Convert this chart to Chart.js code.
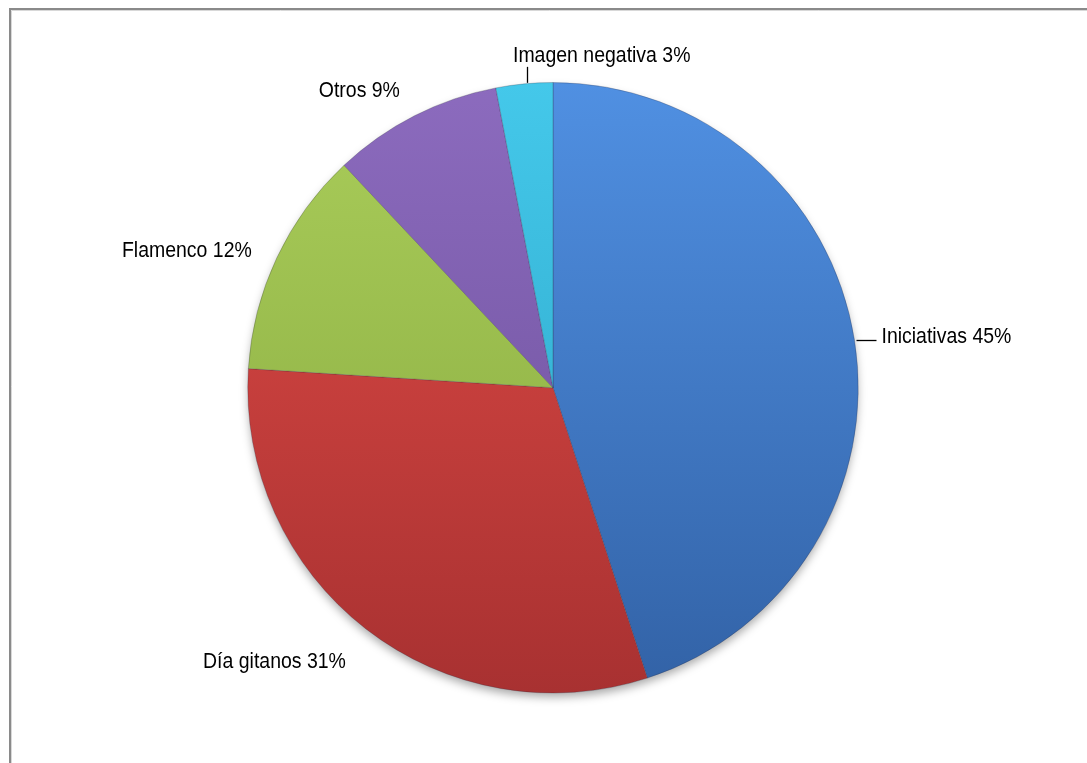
<!DOCTYPE html>
<html>
<head>
<meta charset="utf-8">
<script src="https://cdn.jsdelivr.net/npm/chart.js@4.4.0/dist/chart.umd.min.js"></script>
<style>
  html, body { margin: 0; padding: 0; background: #fff; overflow: hidden; }
  #wrap { position: relative; width: 1087px; height: 763px; }
</style>
</head>
<body>
<div id="wrap"><canvas id="c" width="1087" height="763"></canvas></div>
<script>
// ---- data ----
const categories = ['Iniciativas', 'Día gitanos', 'Flamenco', 'Otros', 'Imagen negativa'];
const percentValues = [45, 31, 12, 9, 3];
const percentLabels = ['45%', '31%', '12%', '9%', '3%'];

// ---- styles ----
const topColors = ['#5090E2', '#E24C47', '#AACD5A', '#8C6BBE', '#44C8EA'];
const bottomColors = ['#3262A6', '#A83131', '#86A83E', '#6A4E98', '#2AA2C4'];
const LABEL_FONT = '22px "Liberation Sans", Arial, sans-serif';
const LABEL_SQUEEZE = 0.885;

// label placement relative to the slice's outer mid-point: [dx, dy(baseline), align, leader]
const labelPlacement = [
  [27, 3, 'left', 'h'],
  [-20, 39.5, 'right', null],
  [-25, -0.5, 'right', null],
  [-14.5, -18.7, 'right', null],
  [-11.3, -21.8, 'left', 'v']
];

function sliceGradient(ctx, i) {
  const chart = ctx.chart;
  const area = chart.chartArea;
  if (!area) return topColors[i];
  const g = chart.ctx.createLinearGradient(0, area.top, 0, area.bottom);
  g.addColorStop(0, topColors[i]);
  g.addColorStop(1, bottomColors[i]);
  return g;
}

const framePlugin = {
  id: 'frame',
  beforeDraw(chart) {
    const c = chart.ctx;
    c.save();
    c.fillStyle = '#ffffff';
    c.fillRect(0, 0, chart.width, chart.height);
    c.strokeStyle = '#8a8a8a';
    c.lineWidth = 2;
    c.beginPath();
    c.moveTo(10, chart.height);
    c.lineTo(10, 9);
    c.lineTo(chart.width, 9);
    c.stroke();
    c.strokeStyle = '#d8d8d8';
    c.lineWidth = 1;
    c.beginPath();
    c.moveTo(11.5, chart.height);
    c.lineTo(11.5, 10.5);
    c.lineTo(chart.width, 10.5);
    c.stroke();
    c.restore();
  }
};

const shadowPlugin = {
  id: 'pieShadow',
  beforeDatasetsDraw(chart) {
    const arc = chart.getDatasetMeta(0).data[0];
    if (!arc) return;
    const c = chart.ctx;
    c.save();
    c.shadowColor = 'rgba(0,0,0,0.35)';
    c.shadowBlur = 10;
    c.shadowOffsetY = 5;
    c.fillStyle = '#ffffff';
    c.beginPath();
    c.arc(arc.x, arc.y, arc.outerRadius - 1, 0, Math.PI * 2);
    c.fill();
    c.restore();
  }
};

const labelPlugin = {
  id: 'outLabels',
  afterDatasetsDraw(chart) {
    const meta = chart.getDatasetMeta(0);
    const c = chart.ctx;
    c.save();
    c.font = LABEL_FONT;
    c.fillStyle = '#000000';
    c.strokeStyle = '#000000';
    c.lineWidth = 1.3;
    c.textBaseline = 'alphabetic';
    meta.data.forEach((arc, i) => {
      const mid = (arc.startAngle + arc.endAngle) / 2;
      const ax = arc.x + Math.cos(mid) * arc.outerRadius;
      const ay = arc.y + Math.sin(mid) * arc.outerRadius;
      const p = labelPlacement[i];
      c.save();
      c.translate(ax + p[0], ay + p[1]);
      c.scale(LABEL_SQUEEZE, 1);
      c.textAlign = p[2];
      c.fillText(categories[i] + ' ' + percentLabels[i], 0, 0);
      c.restore();
      if (p[3] === 'h') {
        c.beginPath();
        c.moveTo(ax + 2, Math.round(ay) + 0.5);
        c.lineTo(ax + p[0] - 5, Math.round(ay) + 0.5);
        c.stroke();
      } else if (p[3] === 'v') {
        c.beginPath();
        c.moveTo(Math.round(ax + 2.5) + 0.5, ay - 1);
        c.lineTo(Math.round(ax + 2.5) + 0.5, ay - 17);
        c.stroke();
      }
    });
    c.restore();
  }
};

new Chart(document.getElementById('c'), {
  type: 'pie',
  data: {
    labels: categories,
    datasets: [{
      data: percentValues,
      backgroundColor: (ctx) => sliceGradient(ctx, ctx.dataIndex),
      borderColor: 'rgba(40,40,60,0.25)',
      borderWidth: 1
    }]
  },
  options: {
    responsive: false,
    animation: false,
    devicePixelRatio: 1,
    layout: { padding: { top: 82, bottom: 69.5, left: 100, right: 81 } },
    plugins: {
      legend: { display: false },
      title: { display: false },
      tooltip: { enabled: false }
    }
  },
  plugins: [framePlugin, shadowPlugin, labelPlugin]
});
</script>
</body>
</html>
